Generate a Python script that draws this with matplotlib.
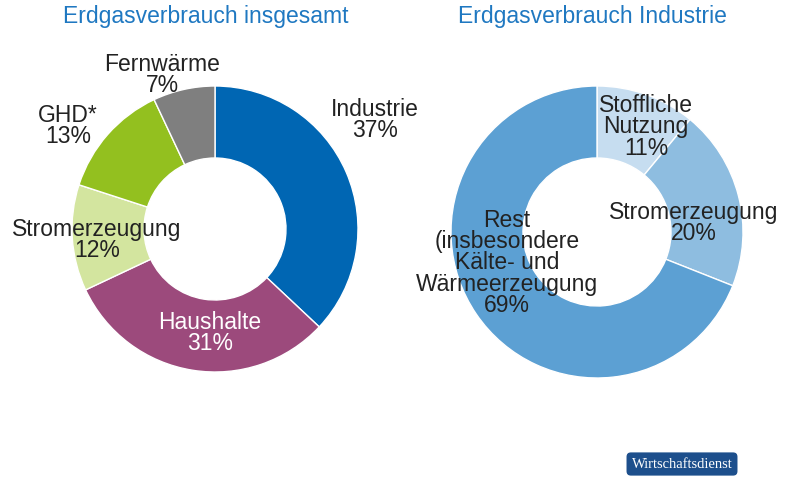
import matplotlib.pyplot as plt

plt.rcParams['font.family'] = ['Liberation Sans', 'DejaVu Sans']

# Data
left_labels = ["Industrie", "Haushalte", "Stromerzeugung", "GHD*", "Fernwärme"]
left_values = [37, 31, 12, 13, 7]
left_colors = ["#0066b3", "#9c4a7c", "#d3e59f", "#93c01f", "#7f7f7f"]

right_labels = ["Stoffliche\nNutzung", "Stromerzeugung",
                "Rest\n(insbesondere\nKälte- und\nWärmeerzeugung"]
right_values = [11, 20, 69]
right_colors = ["#c6ddf0", "#8ebde0", "#5ca0d3"]

H = 489
fig = plt.figure(figsize=(8, 4.89), dpi=100)
ax = fig.add_axes([0, 0, 1, 1])
ax.set_xlim(0, 800)
ax.set_ylim(0, H)
ax.set_aspect("equal")
ax.axis("off")

ax.pie(left_values, colors=left_colors, startangle=90, counterclock=False,
       center=(215, H - 230), radius=143,
       wedgeprops=dict(width=72, edgecolor="white", linewidth=1))
ax.pie(right_values, colors=right_colors, startangle=90, counterclock=False,
       center=(597, H - 233), radius=146,
       wedgeprops=dict(width=72, edgecolor="white", linewidth=1))
ax.set_xlim(0, 800)
ax.set_ylim(0, H)

title_c = "#1f78c1"
fs = 16.5
ax.text(206, H - 17, "Erdgasverbrauch insgesamt", color=title_c, fontsize=16.5,
        ha="center", va="center")
ax.text(592, H - 17, "Erdgasverbrauch Industrie", color=title_c, fontsize=16.5,
        ha="center", va="center")

# Left labels (pixel positions of text)
lpos = [(375, 120, "#222222"), (210, 333, "white"), (97, 240, "#222222"),
        (68, 126, "#222222"), (162, 75, "#222222")]
for (x, y, c), lab, v in zip(lpos, left_labels, left_values):
    ax.text(x, H - y, f"{lab}\n{v}%", color=c, fontsize=fs, ha="center",
            va="center", linespacing=0.9)

# Right labels
rpos = [(646, 127), (694, 223), (507, 263)]
for (x, y), lab, v in zip(rpos, right_labels, right_values):
    ax.text(x, H - y, f"{lab}\n{v}%", color="#222222", fontsize=fs,
            ha="center", va="center", linespacing=0.9)

# Logo
ax.text(682, H - 465, "Wirtschaftsdienst", color="white", fontsize=10.5,
        family="Liberation Serif", ha="center", va="center",
        bbox=dict(boxstyle="round,pad=0.35,rounding_size=0.3",
                  fc="#1d4f8c", ec="none"))

fig.savefig("out.png", dpi=100)
